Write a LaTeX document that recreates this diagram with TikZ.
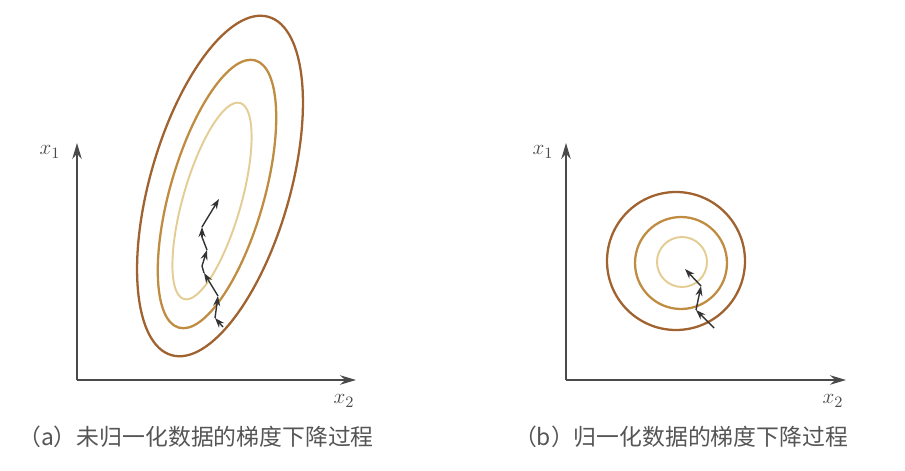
\documentclass[tikz,border=0pt]{standalone}
\usepackage{fontspec}
\usetikzlibrary{arrows.meta}
\newfontfamily\cjk{Noto Sans CJK SC}
\definecolor{ringout}{HTML}{A0622E}
\definecolor{ringmid}{HTML}{BF8C42}
\definecolor{ringin}{HTML}{E4CD94}
\definecolor{inkaxis}{HTML}{4A4A4A}
\definecolor{inkcap}{HTML}{555555}
\tikzset{
  axis/.style={-{Stealth[length=3.2mm, width=1.9mm]}, inkaxis, line width=0.8pt},
  descent/.style={-{Stealth[length=2mm, width=1.4mm]}, black!80, line width=0.8pt},
  trail/.style={black!80, line width=0.8pt},
  ring/.style={line width=1.3pt},
  caption/.style={font=\cjk\fontsize{13}{15}\selectfont, text=inkcap},
  axislabel/.style={font=\fontsize{13}{15}\selectfont, text=inkaxis}
}

\begin{document}
\begin{tikzpicture}[x=0.02cm, y=-0.02cm]
  \useasboundingbox (0,0) rectangle (905,470);

  % (a) unnormalized
  \coordinate (oa) at (77,380);
  \coordinate (ya) at (77,143);
  \coordinate (xa) at (356,380);
  \draw[axis] (oa) -- (ya);
  \draw[axis] (oa) -- (xa);
  \node[axislabel] (lx1a) at (50,152) {$x_1$};
  \node[axislabel] (lx2a) at (344,401) {$x_2$};

  \draw[ring, ringout, rotate around={74:(220,186)}] (220,186) ellipse [x radius=3.52cm, y radius=1.40cm];
  \draw[ring, ringmid, rotate around={74:(217,194)}] (217,194) ellipse [x radius=2.78cm, y radius=0.94cm];
  \draw[ring, ringin, line width=1.1pt, rotate around={74:(212,201)}] (212,201) ellipse [x radius=2.04cm, y radius=0.58cm];

  \coordinate (a0) at (223,327);
  \coordinate (a1) at (215,318);
  \coordinate (a2) at (218,296);
  \coordinate (a3) at (204,273);
  \coordinate (a4) at (202,266);
  \coordinate (a5) at (207,250);
  \coordinate (a6) at (202,237);
  \coordinate (a7) at (202,227);
  \coordinate (a8) at (205,222);
  \coordinate (a9) at (219,199);
  \draw[descent] (a0) -- (a1);
  \draw[descent] (a1) -- (a2);
  \draw[descent] (a2) -- (a3);
  \draw[trail] (a3) -- (a4);
  \draw[descent] (a4) -- (a5);
  \draw[trail] (a5) -- (a6);
  \draw[descent] (a6) -- (a7);
  \draw[trail] (a7) -- (a8);
  \draw[descent] (a8) -- (a9);

  \node[caption] (capa) at (196,437) {（a）未归一化数据的梯度下降过程};

  % (b) normalized
  \coordinate (ob) at (566,380);
  \coordinate (yb) at (566,143);
  \coordinate (xb) at (846,380);
  \draw[axis] (ob) -- (yb);
  \draw[axis] (ob) -- (xb);
  \node[axislabel] (lx1b) at (543,152) {$x_1$};
  \node[axislabel] (lx2b) at (833,401) {$x_2$};

  \draw[ring, ringout] (676,261) circle [radius=1.38cm];
  \draw[ring, ringmid] (681,263) circle [radius=0.92cm];
  \draw[ring, ringin, line width=1.1pt] (682,262) circle [radius=0.50cm];

  \coordinate (b0) at (714,328);
  \coordinate (b1) at (696,310);
  \coordinate (b2) at (701,286);
  \coordinate (b3) at (685,269);
  \draw[descent] (b0) -- (b1);
  \draw[descent] (b1) -- (b2);
  \draw[descent] (b2) -- (b3);

  \node[caption] (capb) at (681,437) {（b）归一化数据的梯度下降过程};
\end{tikzpicture}
\end{document}
